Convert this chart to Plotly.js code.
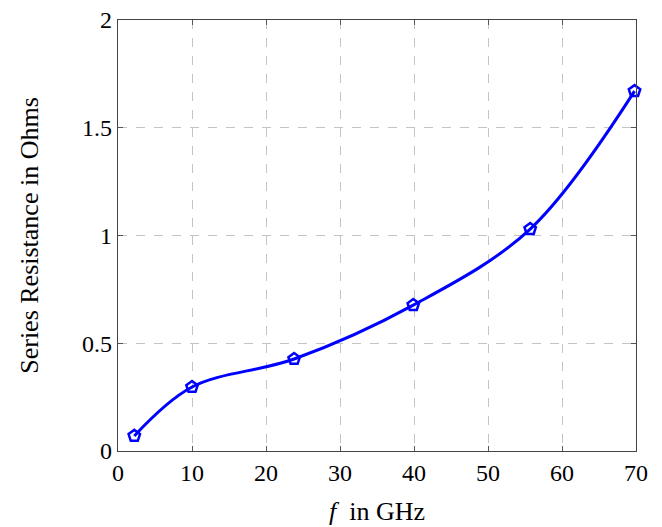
<!DOCTYPE html>
<html>
<head>
<meta charset="utf-8">
<script src="https://cdn.plot.ly/plotly-3.0.1.min.js"></script>
<style>html,body{margin:0;padding:0;background:#fff;}#chart{width:662px;height:527px;}</style>
</head>
<body>
<div id="chart"></div>
<script>
const freqGHz = [2.2, 10, 23.8, 39.9, 55.7, 69.8];
const resistanceOhms = [0.07, 0.297, 0.427, 0.677, 1.03, 1.67];
const xTickVals = [0, 10, 20, 30, 40, 50, 60, 70];
const yTickVals = [0, 0.5, 1, 1.5, 2];
const yTickText = ['0', '0.5', '1', '1.5', '2'];

const fontFam = "Liberation Serif, 'Times New Roman', serif";

const trace = {
  x: freqGHz,
  y: resistanceOhms,
  mode: 'lines+markers',
  type: 'scatter',
  line: {color: '#0000ff', width: 3, shape: 'spline', smoothing: 1},
  marker: {symbol: 'pentagon-open', size: 12, color: '#0000ff', line: {color: '#0000ff', width: 2.5}},
  cliponaxis: false,
  showlegend: false
};

const axisCommon = {
  showline: true,
  linecolor: '#444',
  linewidth: 1.2,
  mirror: 'ticks',
  ticks: 'inside',
  ticklen: 5,
  tickcolor: '#555',
  tickwidth: 1,
  showgrid: true,
  gridcolor: '#c4c4c4',
  gridwidth: 1,
  griddash: 'dash',
  zeroline: false,
  tickfont: {family: fontFam, size: 24, color: '#000'}
};

const layout = {
  width: 662,
  height: 527,
  margin: {l: 118, r: 26, t: 20, b: 76},
  paper_bgcolor: '#fff',
  plot_bgcolor: '#fff',
  font: {family: fontFam},
  xaxis: Object.assign({}, axisCommon, {
    range: [0, 70],
    tickvals: xTickVals,
    ticktext: xTickVals.map(String),
    title: {text: '<i>f</i>  in GHz', font: {family: fontFam, size: 26, color: '#000'}, standoff: 16}
  }),
  yaxis: Object.assign({}, axisCommon, {
    range: [0, 2],
    tickvals: yTickVals,
    ticktext: yTickText,
    title: {text: 'Series Resistance in Ohms', font: {family: fontFam, size: 26, color: '#000'}, standoff: 36}
  })
};

Plotly.newPlot('chart', [trace], layout, {displayModeBar: false, staticPlot: true});
</script>
</body>
</html>
